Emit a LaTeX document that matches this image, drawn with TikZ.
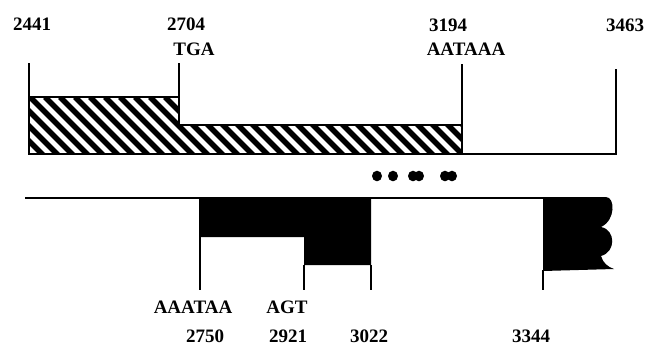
\documentclass[tikz,border=0pt]{standalone}
\usepackage{fontspec}
\setmainfont{Liberation Serif}
\usetikzlibrary{positioning}
\tikzset{
  lbl/.style={font=\fontsize{19}{22}\selectfont\bfseries, anchor=base, inner sep=0pt},
  seqline/.style={line width=2.8pt},
  tick/.style={line width=2.6pt}
}

\begin{document}
\begin{tikzpicture}[x=1pt,y=-1pt]
  \useasboundingbox (0,0) rectangle (656,346);
  % hatched region (upper map)
  \begin{scope}
    \clip (29,97) -- (179,97) -- (179,125) -- (462,125) -- (462,154) -- (29,154) -- cycle;
    \foreach \s in {-30,-15,...,480}
      \draw[line width=5.5pt] (\s,97) -- ++(70,70);
  \end{scope}
  \draw[seqline] (29,63) -- (29,154) -- (616,154) -- (616,69);
  \draw[seqline] (29,97) -- (179,97);
  \draw[seqline] (179,63) -- (179,125) -- (462,125);
  \draw[seqline] (462,64) -- (462,154);

  % dots
  \foreach \x in {377,393,413,419,445,452}
    \fill (\x,176) circle [x radius=5pt, y radius=5.3pt];

  % lower map
  \draw[seqline] (25,198) -- (543,198);
  \fill (199,197) -- (371,197) -- (371,265) -- (304,265) -- (304,237) -- (199,237) -- cycle;
  \fill (543,197) -- (606,197) .. controls (615,197) and (616,220) .. (601,227)
    .. controls (616,230) and (616,252) .. (601,256)
    .. controls (603,263) and (608,267) .. (614,269) -- (543,271) -- cycle;
  \foreach \x/\t in {200/237, 304/265, 371/265, 543/270}
    \draw[tick] (\x,\t) -- (\x,290);

  % labels
  \foreach \n/\x/\y/\t in {n2441/32/30/2441, n2704/186/30/2704, tga/194/55/TGA,
      n3194/448/31/3194, aataaa/466/55/AATAAA, n3463/625/31/3463,
      aaataa/193/313/AAATAA, agt/287/313/AGT,
      n2750/205/342/2750, n2921/288/342/2921, n3022/369/342/3022, n3344/531/342/3344}
    \node[lbl] (\n) at (\x,\y) {\t};
\end{tikzpicture}
\end{document}
